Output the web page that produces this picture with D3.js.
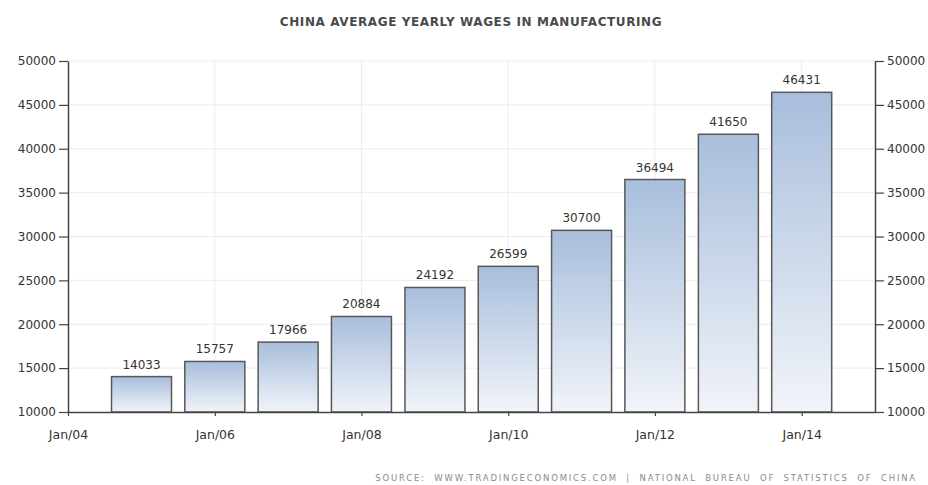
<!DOCTYPE html>
<html>
<head>
<meta charset="utf-8">
<script src="https://cdn.jsdelivr.net/npm/d3@7"></script>
<style>
  body { margin: 0; background: #fff; }
  svg { display: block; font-family: "DejaVu Sans", Verdana, sans-serif; }
</style>
</head>
<body>
<svg id="chart" width="928" height="485"></svg>
<script>
// Average yearly wages in manufacturing, China (CNY)
const years = [2005, 2006, 2007, 2008, 2009, 2010, 2011, 2012, 2013, 2014];
const wages = [14033, 15757, 17966, 20884, 24192, 26599, 30700, 36494, 41650, 46431];
const yTicks = [10000, 15000, 20000, 25000, 30000, 35000, 40000, 45000, 50000];
const xTickYears = [2004, 2006, 2008, 2010, 2012, 2014];

const svg = d3.select("#chart");
const margin = { left: 68, right: 53, top: 61, bottom: 73 };
const W = 928, H = 485;
const plotW = W - margin.left - margin.right;
const plotH = H - margin.top - margin.bottom;

const x = d3.scaleTime()
  .domain([new Date(2004, 0, 1), new Date(2015, 0, 1)])
  .range([margin.left, margin.left + plotW]);
const y = d3.scaleLinear()
  .domain([10000, 50000])
  .range([margin.top + plotH, margin.top]);

const data = years.map((yr, i) => ({ date: new Date(yr, 0, 1), value: wages[i] }));
const barW = 60;

// gradient fill for the bars
const defs = svg.append("defs");
const grad = defs.append("linearGradient")
  .attr("id", "barGrad").attr("x1", 0).attr("y1", 0).attr("x2", 0).attr("y2", 1);
grad.append("stop").attr("offset", "0%").attr("stop-color", "#a8bedc");
grad.append("stop").attr("offset", "100%").attr("stop-color", "#f1f4f9");

// title
svg.append("text")
  .attr("x", 471).attr("y", 26)
  .attr("text-anchor", "middle")
  .attr("font-size", 12).attr("font-weight", "bold")
  .attr("letter-spacing", 0.6)
  .attr("fill", "#4a4a4a")
  .text("CHINA AVERAGE YEARLY WAGES IN MANUFACTURING");

// horizontal grid
svg.append("g")
  .selectAll("line").data(yTicks.filter(t => t > 10000)).join("line")
  .attr("x1", margin.left).attr("x2", margin.left + plotW)
  .attr("y1", d => y(d)).attr("y2", d => y(d))
  .attr("stroke", "#ececec").attr("stroke-width", 1);

// vertical grid
svg.append("g")
  .selectAll("line").data(xTickYears.filter(t => t > 2004)).join("line")
  .attr("x1", d => x(new Date(d, 0, 1))).attr("x2", d => x(new Date(d, 0, 1)))
  .attr("y1", margin.top).attr("y2", margin.top + plotH)
  .attr("stroke", "#ececec").attr("stroke-width", 1);

// bars
svg.append("g")
  .selectAll("rect").data(data).join("rect")
  .attr("x", d => x(d.date) - barW / 2)
  .attr("y", d => y(d.value))
  .attr("width", barW)
  .attr("height", d => y(10000) - y(d.value))
  .attr("fill", "url(#barGrad)")
  .attr("stroke", "#585858")
  .attr("stroke-width", 1.5);

// value labels
svg.append("g")
  .selectAll("text").data(data).join("text")
  .attr("x", d => x(d.date))
  .attr("y", d => y(d.value) - 8)
  .attr("text-anchor", "middle")
  .attr("font-size", 12)
  .attr("fill", "#333")
  .text(d => d.value);

// axes
const axisStyle = g => {
  g.select(".domain").attr("stroke", "#444").attr("stroke-width", 1.5);
  g.selectAll(".tick line").attr("stroke", "#444").attr("stroke-width", 1.2);
  g.selectAll(".tick text").attr("fill", "#333").attr("font-size", 12)
    .attr("font-family", "DejaVu Sans, Verdana, sans-serif");
};

svg.append("g")
  .attr("transform", `translate(${margin.left},0)`)
  .call(d3.axisLeft(y).tickValues(yTicks).tickFormat(d3.format("d")).tickSize(9).tickSizeOuter(0).tickPadding(3))
  .call(axisStyle);

svg.append("g")
  .attr("transform", `translate(${margin.left + plotW},0)`)
  .call(d3.axisRight(y).tickValues(yTicks).tickFormat(d3.format("d")).tickSize(9).tickSizeOuter(0).tickPadding(3))
  .call(axisStyle);

const fmtMonth = d3.timeFormat("%b/%y");
svg.append("g")
  .attr("transform", `translate(0,${margin.top + plotH})`)
  .call(d3.axisBottom(x)
    .tickValues(xTickYears.map(yr => new Date(yr, 0, 1)))
    .tickFormat(fmtMonth).tickSize(4).tickSizeOuter(0).tickPadding(14))
  .call(axisStyle)
  .call(g => g.selectAll(".tick text").attr("font-size", 12.5));

// source line
svg.append("text")
  .attr("x", 917).attr("y", 481)
  .attr("text-anchor", "end")
  .attr("font-size", 8.5)
  .attr("letter-spacing", 1.8)
  .attr("word-spacing", 4)
  .attr("fill", "#8a8a8a")
  .text("SOURCE: WWW.TRADINGECONOMICS.COM | NATIONAL BUREAU OF STATISTICS OF CHINA");
</script>
</body>
</html>
